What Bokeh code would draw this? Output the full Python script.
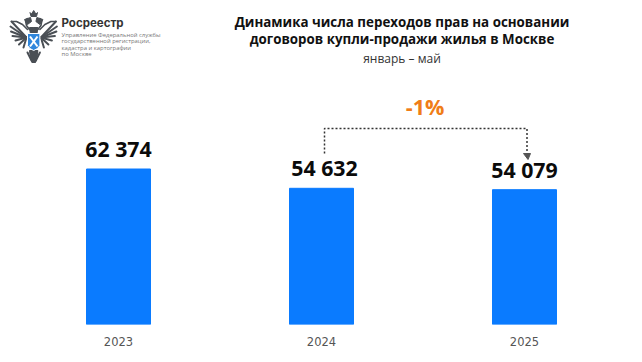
from bokeh.plotting import figure
from bokeh.models import Range1d, Label, FixedTicker
from bokeh.embed import file_html
from bokeh.resources import INLINE

years = [2023, 2024, 2025]
values = [62374, 54632, 54079]
value_labels = ["62 374", "54 632", "54 079"]
change_label = "-1%"
title_lines = ["Динамика числа переходов прав на основании", "договоров купли-продажи жилья в Москве"]
subtitle = "январь – май"
org_name = "Росреестр"
org_lines = ["Управление Федеральной службы", "государственной регистрации,", "кадастра и картографии", "по Москве"]

W, H = 642, 362
BOTTOM = 38
PX_PER_YEAR = 203.0
FIRST_PX = 118.0        # pixel centre of the first bar
PX_PER_UNIT = 0.002493
frame_h = H - BOTTOM
x0 = years[0] - FIRST_PX / PX_PER_YEAR

p = figure(width=W, height=H, output_backend="svg", toolbar_location=None,
           x_range=Range1d(x0, x0 + W / PX_PER_YEAR), y_range=Range1d(0, frame_h / PX_PER_UNIT),
           min_border_left=0, min_border_right=0, min_border_top=0, min_border_bottom=BOTTOM,
           outline_line_color=None, background_fill_color="white", border_fill_color="white")
p.ygrid.visible = False
p.xgrid.visible = False
p.yaxis.visible = False
ax = p.xaxis[0]
ax.ticker = FixedTicker(ticks=years)
ax.axis_line_color = None
ax.major_tick_line_color = None
ax.minor_tick_line_color = None
ax.major_label_standoff = 6
ax.major_label_text_font = "DejaVu Sans"
ax.major_label_text_font_size = "11.5px"
ax.major_label_text_color = "#555555"

def X(px):
    return x0 + px / PX_PER_YEAR
def Y(py):
    return (H - BOTTOM - py) / PX_PER_UNIT

p.vbar(x=years, top=values, bottom=0, width=64 / PX_PER_YEAR, color="#0a7bff")

def text(px, py, s, size, color="#111111", style="normal", align="center", font="Open Sans"):
    p.add_layout(Label(x=X(px), y=Y(py), text=s, text_font=font, text_font_size=f"{size}px",
                       text_color=color, text_font_style=style, text_align=align, text_baseline="middle"))

for yr, v, s, dx in zip(years, values, value_labels, (0, 3, 0)):
    p.add_layout(Label(x=yr, y=v, x_offset=dx, y_offset=6, text=s, text_font="Open Sans", text_font_size="21.3px",
                       text_color="#0b0b0b", text_font_style="bold", text_align="center", text_baseline="bottom"))

# title block
text(401.5, 21.5, title_lines[0], 13.35, style="bold")
text(401.5, 38, title_lines[1], 13.35, style="bold")
text(401.5, 58, subtitle, 12, color="#333333")
text(424.5, 105.5, change_label, 21.5, color="#f07d17", style="bold")

# connector
p.line([X(324), X(324), X(526.5), X(526.5)], [Y(153), Y(128), Y(128), Y(155)],
       line_color="#333333", line_width=1.5, line_dash="2 2")
p.patch([X(523), X(530), X(527.5)], [Y(153), Y(153), Y(159)], color="#555555")

# logo text
text(61, 22.5, org_name, 11.5, color="#333333", style="bold", align="left", font="Inter")
for i, s in enumerate(org_lines):
    text(61, 34 + i * 6.6, s, 5.9, color="#777777", align="left")

# logo emblem, mirrored about its vertical axis
grey = "#4a4f55"
AXIS = 33.2
def mirror(xs):
    return [2 * AXIS - v for v in xs]
def both_lines(xs, ys, width, color=grey):
    for xx in (xs, mirror(xs)):
        p.line([X(v) for v in xx], [Y(v) for v in ys], line_color=color, line_width=width, line_cap="round")
def both_patches(xs, ys, color=grey):
    for xx in (xs, mirror(xs)):
        p.patch([X(v) for v in xx], [Y(v) for v in ys], color=color)

feather_tips = [(11, 21), (10, 26), (10.5, 31), (12, 35.5), (15, 40), (18.5, 44), (23, 47)]
for tx, ty in feather_tips:
    both_lines([26, tx], [37, ty], 2)
both_lines([27, 22, 16, 11], [29, 24, 21, 21], 1.6)
both_lines([29, 26, 25, 27], [29, 25, 20, 18], 1.6)
both_patches([24, 30, 31, 27], [19, 17, 21, 24])
both_lines([21, 25], [27, 31], 1.5, "#ffffff")
both_lines([27, 31], [52, 60], 2)
both_lines([30, 32], [51, 61], 2)
both_patches([29, 33.2, 33.2, 30], [27, 27, 34, 34])
# crown
p.patch([X(v) for v in (29.5, 31, 33.2, 35.4, 37, 36, 30.5)],
        [Y(v) for v in (12, 13.5, 10, 13.5, 12, 16, 16)], color=grey)
# tail
p.patch([X(v) for v in (29, 37.4, 36.5, 35, 31.4, 30)], [Y(v) for v in (50, 50, 57, 62, 62, 57)], color=grey)
# shield
p.patch([X(v) for v in (27, 39.4, 39.4, 37, 33.2, 29.4, 27)], [Y(v) for v in (33, 33, 45, 48, 50, 48, 45)],
        color="#2f86dc", line_color="white", line_width=1)
p.line([X(29.5), X(37)], [Y(36), Y(46)], line_color="white", line_width=2)
p.line([X(37), X(29.5)], [Y(36), Y(46)], line_color="white", line_width=2)

open("out.html", "w").write(file_html(p, INLINE))
